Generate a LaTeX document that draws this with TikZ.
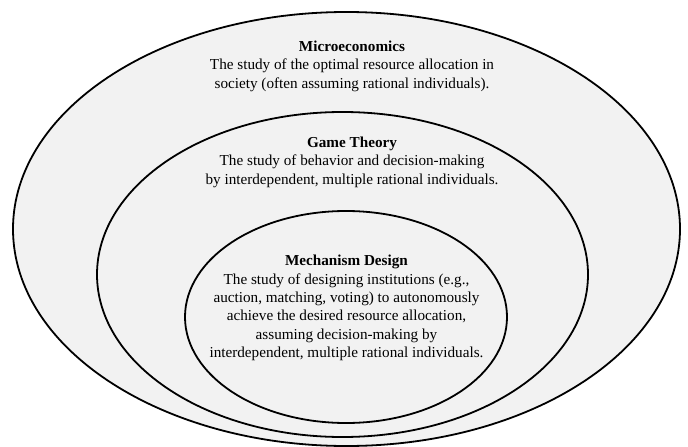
\documentclass[tikz,border=0pt]{standalone}
\usepackage{fontspec}
\setmainfont{Liberation Serif}
\definecolor{fieldgray}{HTML}{F2F2F2}

\begin{document}
\begin{tikzpicture}[x=1pt,y=-1pt,
        field/.style={draw=black,line width=1.8pt,fill=fieldgray},
        desc/.style={align=center,inner sep=0pt,font=\fontsize{15.2}{18.4}\selectfont}]
        \useasboundingbox[fill=white] (0,0) rectangle (688,447);

        \coordinate (MicroC) at (346.5,229);
        \coordinate (GameC) at (342.5,274.5);
        \coordinate (MechC) at (346,317);

        % Draw nested fields
        \draw[field] (MicroC) ellipse [x radius=333.5pt, y radius=217pt];
        \draw[field] (GameC) ellipse [x radius=245.5pt, y radius=162.5pt];
        \draw[field] (MechC) ellipse [x radius=161pt, y radius=106pt];

        % Descriptions
        \node[desc] (micro) at (352,66) {\textbf{Microeconomics}\\The study of the optimal resource allocation in\\society (often assuming rational individuals).};
        \node[desc] (game) at (352,162) {\textbf{Game Theory}\\The study of behavior and decision-making\\by interdependent, multiple rational individuals.};
        \node[desc] (mech) at (346.5,308) {\textbf{Mechanism Design}\\The study of designing institutions (e.g.,\\auction, matching, voting) to autonomously\\achieve the desired resource allocation,\\assuming decision-making by\\interdependent, multiple rational individuals.};

    \end{tikzpicture}
\end{document}
